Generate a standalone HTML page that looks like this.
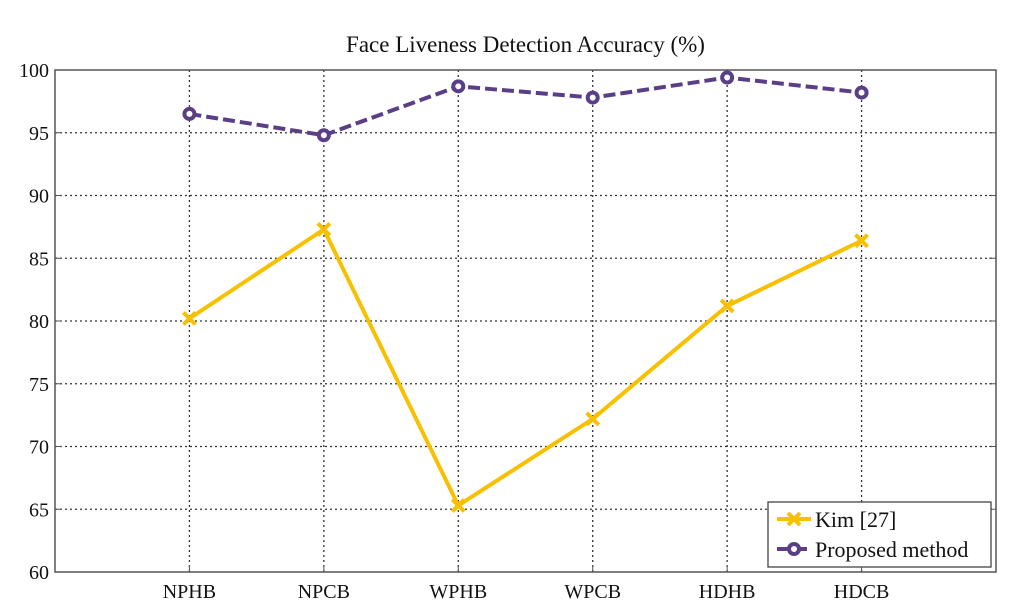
<!DOCTYPE html>
<html><head><meta charset="utf-8"><style>
body{margin:0;background:#fff;}
svg text{font-family:"Liberation Serif",serif;fill:#111;}
</style></head><body>
<svg id="c" width="1024" height="610" xmlns="http://www.w3.org/2000/svg"></svg>
<script>
const categories=["NPHB","NPCB","WPHB","WPCB","HDHB","HDCB"];
const kimValues=[80.2,87.3,65.3,72.2,81.2,86.4];
const proposedValues=[96.5,94.8,98.7,97.8,99.4,98.2];
const yTicks=[60,65,70,75,80,85,90,95,100];
const L=55,R=996,T=70,B=572;
const ns="http://www.w3.org/2000/svg";
const svg=document.getElementById('c');
const xs=i=>L+(i+1)*(R-L)/7;
const ys=v=>B-(v-60)/40*(B-T);
function el(t,a,p){const e=document.createElementNS(ns,t);for(const k in a)e.setAttribute(k,a[k]);(p||svg).appendChild(e);return e;}
const t=el('text',{x:(L+R)/2,y:52,'text-anchor':'middle','font-size':23});t.textContent="Face Liveness Detection Accuracy (%)";


const grid=el('g',{});


yTicks.forEach(v=>{
 if(v>60&&v<100){const g=el('line',{x1:L,x2:R,y1:ys(v),y2:ys(v),stroke:'#333','stroke-width':1.3,'stroke-dasharray':'2,3'},grid);}
 el('line',{x1:L,x2:L+7,y1:ys(v),y2:ys(v),stroke:'#555'});
 el('line',{x1:R,x2:R-7,y1:ys(v),y2:ys(v),stroke:'#555'});
 const tx=el('text',{x:L-6,y:ys(v)+7,'text-anchor':'end','font-size':20});tx.textContent=v;
 
 
});
categories.forEach((c,i)=>{
 el('line',{x1:xs(i),x2:xs(i),y1:T,y2:B,stroke:'#333','stroke-width':1.3,'stroke-dasharray':'2,3'},grid);
 el('line',{x1:xs(i),x2:xs(i),y1:B,y2:B-7,stroke:'#555'});
 const tx=el('text',{x:xs(i),y:B+26,'text-anchor':'middle','font-size':20});tx.textContent=c;
 
 
});
const ax=el('rect',{x:L,y:T,width:R-L,height:B-T,fill:'none',stroke:'#555','stroke-width':1.5});


const kc='#f8c000',pc='#5a3f86';
const kl=el('polyline',{points:kimValues.map((v,i)=>xs(i)+','+ys(v)).join(' '),fill:'none',stroke:kc,'stroke-width':4});


kimValues.forEach((v,i)=>{const x=xs(i),y=ys(v);
 const m=el('path',{d:`M${x-6},${y-6}L${x+6},${y+6}M${x-6},${y+6}L${x+6},${y-6}`,stroke:kc,'stroke-width':4});
 
 });
const pl=el('polyline',{points:proposedValues.map((v,i)=>xs(i)+','+ys(v)).join(' '),fill:'none',stroke:pc,'stroke-width':4,'stroke-dasharray':'12,5'});


proposedValues.forEach((v,i)=>{
 const m=el('circle',{cx:xs(i),cy:ys(v),r:5,fill:'#fff',stroke:pc,'stroke-width':4});
 
 });
const lg=el('g',{});


el('rect',{x:768,y:502,width:223,height:65,fill:'#fff',stroke:'#444','stroke-width':1.3},lg);
el('line',{x1:777,x2:811,y1:519,y2:519,stroke:kc,'stroke-width':4},lg);
el('path',{d:'M788,513L800,525M788,525L800,513',stroke:kc,'stroke-width':4},lg);
el('line',{x1:777,x2:807,y1:549,y2:549,stroke:pc,'stroke-width':4},lg);
el('circle',{cx:794,cy:549,r:5,fill:'#fff',stroke:pc,'stroke-width':4},lg);
const l1=el('text',{x:815,y:527,'font-size':22},lg);l1.textContent="Kim [27]";


const l2=el('text',{x:815,y:557,'font-size':22},lg);l2.textContent="Proposed method";


</script>
</body></html>
